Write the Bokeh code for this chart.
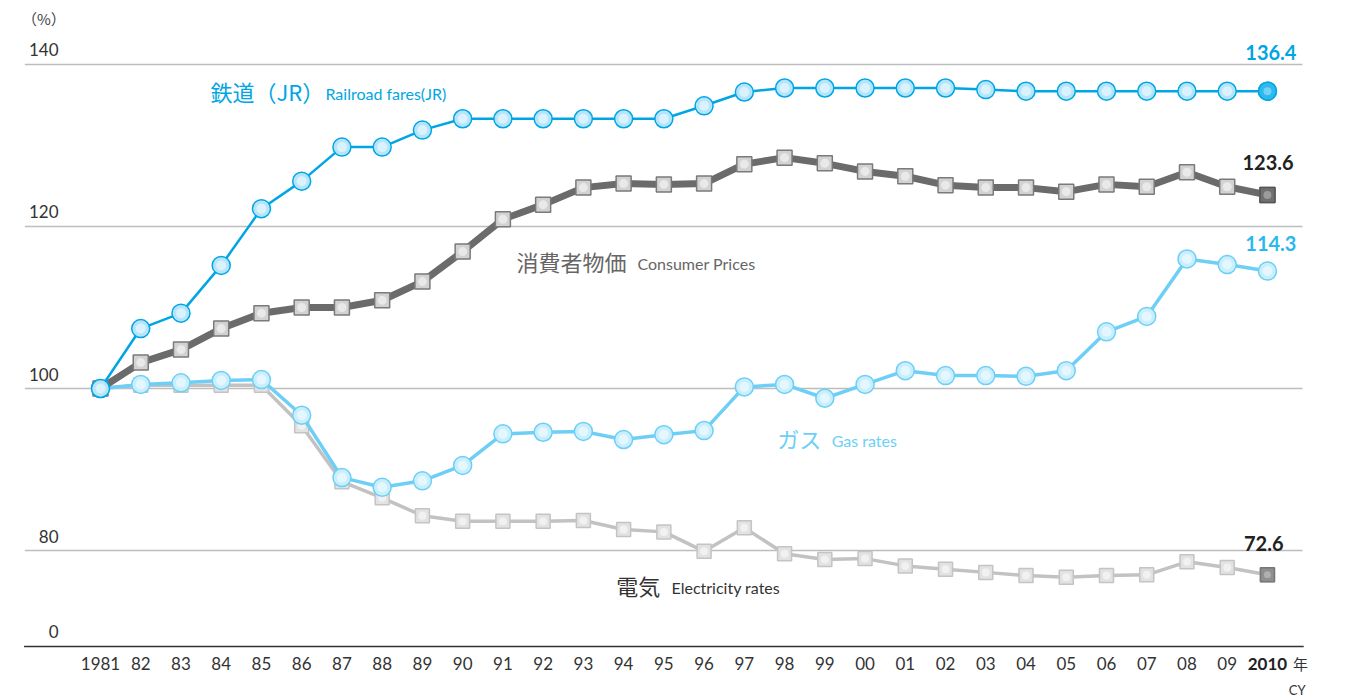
from bokeh.plotting import figure
from bokeh.models import Range1d, ColumnDataSource
from bokeh.core.properties import value
from bokeh.embed import file_html
from bokeh.resources import INLINE

years = list(range(1981, 2011))
tick_labels = ["1981", "82", "83", "84", "85", "86", "87", "88", "89", "90",
               "91", "92", "93", "94", "95", "96", "97", "98", "99", "00",
               "01", "02", "03", "04", "05", "06", "07", "08", "09", "2010"]
railroad = [100, 107.4, 109.3, 115.2, 122.2, 125.6, 129.8, 129.8, 131.9, 133.3,
            133.3, 133.3, 133.3, 133.3, 133.3, 134.9, 136.6, 137.1, 137.1, 137.1,
            137.1, 137.1, 136.9, 136.7, 136.7, 136.7, 136.7, 136.7, 136.7, 136.7]
cpi = [100, 103.2, 104.8, 107.4, 109.3, 110.0, 110.0, 110.9, 113.2, 116.9,
       120.9, 122.7, 124.8, 125.3, 125.2, 125.3, 127.7, 128.5, 127.8, 126.8,
       126.2, 125.1, 124.8, 124.8, 124.3, 125.2, 124.9, 126.7, 124.9, 123.9]
gas = [100, 100.5, 100.7, 101.0, 101.1, 96.7, 89.0, 87.8, 88.6, 90.5,
       94.4, 94.6, 94.7, 93.7, 94.3, 94.8, 100.2, 100.5, 98.8, 100.5,
       102.2, 101.6, 101.6, 101.5, 102.2, 107.0, 108.9, 116.0, 115.3, 114.5]
electricity = [100, 100.4, 100.4, 100.4, 100.4, 95.4, 88.5, 86.5, 84.3, 83.6,
               83.6, 83.6, 83.7, 82.6, 82.3, 79.9, 82.8, 79.6, 78.9, 79.0,
               78.1, 77.7, 77.3, 76.9, 76.7, 76.9, 77.0, 78.6, 77.9, 77.0]
end_labels = ["136.4", "123.6", "114.3", "72.6"]
grid_values = [140, 120, 100, 80]
y_tick_labels = ["140", "120", "100", "80", "0"]
AXIS_BASE = 68.15  # the broken axis "0" position

JP = "Noto Sans CJK JP"
EN = "Lato"

p = figure(width=1348, height=698, output_backend="svg", toolbar_location=None,
           x_range=Range1d(1978.515, 2012.014), y_range=Range1d(61.73, 147.90),
           min_border=0, outline_line_color=None)
p.axis.visible = False
p.grid.visible = False
p.background_fill_color = "white"

# grid lines
for g in grid_values:
    p.segment(x0=1979.12, y0=g, x1=2010.87, y1=g, line_color="#bdbdbd", line_width=1.5)
p.segment(x0=1979.1, y0=AXIS_BASE, x1=2010.9, y1=AXIS_BASE, line_color="#333333", line_width=1.5)

# y labels
ylab_y = grid_values + [AXIS_BASE]
p.text(x=[1979.956] * 5, y=ylab_y, text=y_tick_labels, text_align="right", text_baseline="bottom",
       y_offset=-8, text_font=value(EN), text_font_size="17px", text_color="#333333")
p.text(x=[1979.05], y=[145.68], text=["（%）"], text_align="left", text_baseline="middle",
       text_font=value(JP), text_font_size="15px", text_color="#444444")

# x tick labels
p.text(x=years[:-1], y=[66.05] * (len(years) - 1), text=tick_labels[:-1], text_align="center",
       text_baseline="middle", text_font=value(EN), text_font_size="17px", text_color="#333333")
p.text(x=years[-1:], y=[66.05], text=tick_labels[-1:], text_align="center", text_baseline="middle",
       text_font=value(EN), text_font_size="17px", text_font_style="bold", text_color="#222222")
p.text(x=[2010.82], y=[66.05], text=["年"], text_align="center", text_baseline="middle",
       text_font=value(JP), text_font_size="15px", text_color="#333333")
p.text(x=[2010.74], y=[62.75], text=["CY"], text_align="center", text_baseline="middle",
       text_font=value(EN), text_font_size="13px", text_color="#333333")

src = ColumnDataSource(dict(year=years, rail=railroad, cpi=cpi, gas=gas, elec=electricity))

def highlight(xs, ys, size, alpha=0.5):
    p.scatter(xs, ys, marker="circle", size=size, fill_color="white", fill_alpha=alpha,
              line_color=None)

# electricity
p.line("year", "elec", source=src, line_color="#c2c2c2", line_width=3.5)
p.scatter("year", "elec", source=src, marker="square", size=14, fill_color="#e2e2e2",
          line_color="#c4c4c4", line_width=1.5)
highlight(years[:-1], electricity[:-1], 8, 0.5)
p.scatter(years[-1:], electricity[-1:], marker="square", size=14, fill_color="#8f8f8f",
          line_color="#777777", line_width=1.5)
highlight(years[-1:], electricity[-1:], 7, 0.3)
# gas
p.line("year", "gas", source=src, line_color="#6dcff6", line_width=3.5)
p.scatter("year", "gas", source=src, marker="circle", size=18, fill_color="#c9eefc",
          line_color="#6dcff6", line_width=1.5)
highlight(years, gas, 10, 0.5)
# cpi
p.line("year", "cpi", source=src, line_color="#6b6b6b", line_width=7)
p.scatter("year", "cpi", source=src, marker="square", size=15, fill_color="#d2d2d2",
          line_color="#7a7a7a", line_width=1.5)
highlight(years[:-1], cpi[:-1], 9, 0.5)
p.scatter(years[-1:], cpi[-1:], marker="square", size=15, fill_color="#707070",
          line_color="#555555", line_width=1.5)
highlight(years[-1:], cpi[-1:], 8, 0.3)
# railroad
p.line("year", "rail", source=src, line_color="#00a6e4", line_width=2.5)
p.scatter("year", "rail", source=src, marker="circle", size=18, fill_color="#b5e5fa",
          line_color="#00a6e4", line_width=1.5)
highlight(years[:-1], railroad[:-1], 10, 0.5)
p.scatter(years[-1:], railroad[-1:], marker="circle", size=18, fill_color="#2cb9ee",
          line_color="#00a6e4", line_width=1.5)
highlight(years[-1:], railroad[-1:], 8, 0.35)

# series labels
def lab(x, y, t, font, size, color, style="normal", align="left"):
    p.text(x=[x], y=[y], text=[t], text_align=align, text_baseline="middle",
           text_font=value(font), text_font_size=size, text_color=color, text_font_style=style)

lab(1983.734, 136.67, "鉄道（JR）", JP, "22px", "#00a6e4")
lab(1986.59, 136.42, "Railroad fares(JR)", EN, "16px", "#00a6e4")
lab(1991.34, 115.68, "消費者物価", JP, "22px", "#666666")
lab(1994.345, 115.43, "Consumer Prices", EN, "16px", "#666666")
lab(1997.82, 93.95, "ガス", JP, "22px", "#6dcff6")
lab(1999.17, 93.58, "Gas rates", EN, "16px", "#6dcff6")
lab(1993.82, 75.80, "電気", JP, "22px", "#333333")
lab(1995.19, 75.43, "Electricity rates", EN, "16px", "#333333")

# end values
lab(2010.72, 141.48, end_labels[0], EN, "20px", "#00a6e4", "bold", "right")
lab(2010.65, 127.90, end_labels[1], EN, "20px", "#222222", "bold", "right")
lab(2010.72, 117.90, end_labels[2], EN, "20px", "#2bb8ee", "bold", "right")
lab(2010.40, 80.86, end_labels[3], EN, "20px", "#222222", "bold", "right")

open("out.html", "w").write(file_html(p, INLINE))
